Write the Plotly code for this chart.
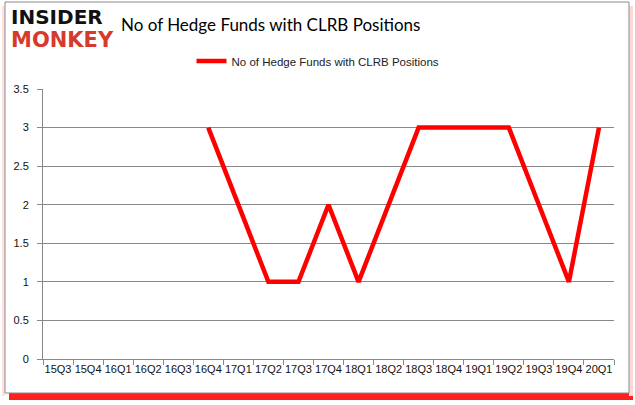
import plotly.graph_objects as go

quarters = ["15Q3", "15Q4", "16Q1", "16Q2", "16Q3", "16Q4", "17Q1", "17Q2", "17Q3", "17Q4",
            "18Q1", "18Q2", "18Q3", "18Q4", "19Q1", "19Q2", "19Q3", "19Q4", "20Q1"]
hedge_funds = [None, None, None, None, None, 3, 2, 1, 1, 2, 1, 2, 3, 3, 3, 3, 2, 1, 3]
y_ticks = [0, 0.5, 1, 1.5, 2, 2.5, 3, 3.5]
y_tick_labels = ["0", "0.5", "1", "1.5", "2", "2.5", "3", "3.5"]
series_name = "No of Hedge Funds with CLRB Positions"
title_text = "No of Hedge Funds with CLRB Positions"

W, H = 635, 405
L, R, T, B = 43, 614, 89, 359


def px(x):
    return (x - L) / (R - L)


def py(y):
    return (B - y) / (B - T)


fig = go.Figure()
fig.add_trace(go.Scatter(
    x=quarters, y=hedge_funds, mode="lines", name=series_name,
    line=dict(color="#ff0000", width=4.5), connectgaps=False,
))

shapes = [
    # red shadow bottom
    dict(type="rect", xref="paper", yref="paper", x0=px(9), x1=px(633), y0=py(400), y1=py(393),
         fillcolor="#ff2020", line=dict(width=0), layer="below"),
    dict(type="rect", xref="paper", yref="paper", x0=px(629), x1=px(633), y0=py(396), y1=py(6),
         fillcolor="#ffd8d8", line=dict(width=0), layer="below"),
    dict(type="rect", xref="paper", yref="paper", x0=px(2), x1=px(5), y0=py(396), y1=py(6),
         fillcolor="#ffe0e0", line=dict(width=0), layer="below"),
    # frame
    dict(type="rect", xref="paper", yref="paper", x0=px(5), x1=px(629), y0=py(393), y1=py(2),
         fillcolor="white", line=dict(color="#8a8a8a", width=1), layer="below"),
]

annotations = [
    dict(text="<b>INSIDER</b>", xref="paper", yref="paper", x=px(9), y=py(17), xanchor="left",
         yanchor="middle", showarrow=False,
         font=dict(family="DejaVu Sans", size=20, color="#111111")),
    dict(text="<b>MONKEY</b>", xref="paper", yref="paper", x=px(9), y=py(40), xanchor="left",
         yanchor="middle", showarrow=False,
         font=dict(family="DejaVu Sans", size=21, color="#d63a2c")),
    dict(text=title_text, xref="paper", yref="paper", x=px(119), y=py(24), xanchor="left",
         yanchor="middle", showarrow=False,
         font=dict(family="Lato", size=17, color="#000000")),
]

fig.update_layout(
    width=W, height=H,
    margin=dict(l=L, r=W - R, t=T, b=H - B, autoexpand=False),
    paper_bgcolor="white", plot_bgcolor="white",
    shapes=shapes, annotations=annotations,
    showlegend=True,
    legend=dict(orientation="h", x=px(318), xanchor="center",
                y=py(61), yanchor="middle",
                font=dict(family="Liberation Sans", size=11.5, color="#222222"),
                bgcolor="rgba(0,0,0,0)", itemwidth=30),
    xaxis=dict(type="category", categoryorder="array", categoryarray=quarters,
               tickson="boundaries", ticks="outside", ticklen=5, tickcolor="#888888",
               showline=True, linecolor="#888888", linewidth=1, showgrid=False,
               tickangle=0, automargin=False,
               tickfont=dict(family="Liberation Sans", size=11, color="#111111"),
               range=[-0.5, len(quarters) - 0.5], fixedrange=True),
    yaxis=dict(range=[0, 3.5], tickvals=y_ticks, ticktext=y_tick_labels,
               ticks="outside", ticklen=5, tickcolor="#888888",
               showline=True, linecolor="#888888", linewidth=1,
               showgrid=True, gridcolor="#888888", gridwidth=1, zeroline=False,
               ticklabelstandoff=6, automargin=False,
               tickfont=dict(family="Liberation Sans", size=11, color="#111111"),
               fixedrange=True),
)

fig.write_html("out.html", config={"displayModeBar": False},
               post_script="document.body.style.margin='0';document.body.style.overflow='hidden';")
